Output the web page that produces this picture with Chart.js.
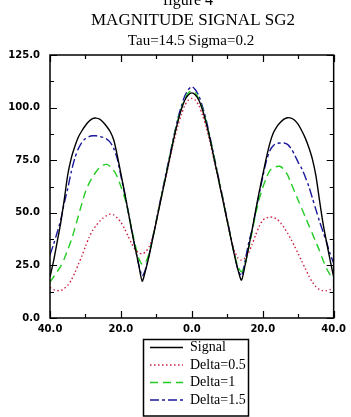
<!DOCTYPE html>
<html>
<head>
<meta charset="utf-8">
<script src="https://cdn.jsdelivr.net/npm/chart.js@4.4.1/dist/chart.umd.min.js"></script>
<style>
  html, body { margin: 0; padding: 0; background: #fff; }
  #fig { display: block; }
</style>
</head>
<body>
<canvas id="fig" width="351" height="417"></canvas>
<script>
// x positions -40 .. 40, step 1
const xs = [];
for (let i = -40; i <= 40; i++) xs.push(i);

const signal = [
  19.5, 27, 36, 45, 56, 68, 76, 81.5, 86, 89,
  91.5, 93.5, 94.8, 95, 94.5, 93, 91, 88.5, 84.5, 77,
  68.5, 60, 51, 42, 33.5, 25.5, 17.5, 23, 30, 38,
  46, 54, 62, 70, 78, 86, 93, 99, 103.5, 106,
  107,
  106, 103.5, 99, 93, 86, 78, 70, 62, 54, 46,
  38, 30, 23, 18, 25, 33.5, 42, 51, 60, 68,
  76, 83, 88, 91, 93, 94.5, 95.2, 95, 94, 92,
  89, 85.5, 81, 75.5, 67.5, 56, 45, 36, 27.5, 19.5
];
const delta05 = [
  14.5, 13.5, 13, 13, 14, 15.5, 18, 21.5, 25.5, 29.5,
  34, 38.3, 41.5, 44, 46, 47.5, 48.7, 49.4, 49, 47.5,
  45.5, 42.5, 39, 35.5, 32.5, 31, 30.5, 31.5, 34, 38.5,
  46, 54.5, 62, 69.5, 77, 84.5, 91, 96.5, 101, 103.5,
  104.4,
  103.5, 101, 96.5, 91, 84.5, 77, 69.5, 62, 54.5, 46,
  38, 32, 28.5, 27.5, 28.5, 31, 35, 39.5, 43.5, 46.5,
  47.5, 48, 47.8, 47, 45.3, 43, 40.3, 37.3, 34, 30.5,
  27, 23.5, 20, 17, 14.8, 13.5, 13, 13, 13.5, 14.5
];
const delta1 = [
  17, 19.5, 22, 24.5, 28, 32.5, 37, 42.5, 48.5, 54.5,
  60, 64, 67, 69.5, 71.5, 72.7, 73, 72, 70, 67,
  62.5, 57.5, 51, 42.5, 35, 28.5, 25.5, 26.5, 31, 38,
  46, 54.5, 62.5, 70.5, 78.5, 86.5, 93.5, 99.5, 104, 107,
  108,
  107, 104, 99.5, 93.5, 86.5, 78.5, 70.5, 62.5, 54.5, 46,
  38, 30.5, 24.5, 22, 25.5, 33, 41, 49.5, 56.5, 62,
  66.5, 70, 71.5, 72, 72, 70.5, 68, 64, 60, 56,
  52, 48, 44, 40, 36, 32, 27.5, 23.5, 20.5, 18
];
const delta15 = [
  30, 35, 40.5, 46.5, 54.5, 61.5, 69.5, 76, 80.5, 83.5,
  85.3, 86.2, 86.6, 86.6, 86.3, 85.8, 85, 83.5, 80.5, 75.5,
  67.5, 59.5, 51, 42, 33.5, 25.5, 20, 23.5, 30.5, 38.5,
  46.5, 55, 63, 71, 79, 87, 94.5, 100.5, 105.5, 108.5,
  110,
  108.5, 105.5, 100.5, 94.5, 87, 79, 71, 63, 55, 46.5,
  38.5, 30.5, 23, 20, 27, 35.5, 42, 50.5, 59, 67,
  74.5, 79.5, 82, 83, 83.2, 83.2, 82.5, 80.5, 77.5, 74,
  71, 67, 62.5, 57, 51.5, 46, 41, 36, 30.5, 26
];

const seriesNames = ["Signal", "Delta=0.5", "Delta=1", "Delta=1.5"];
const xTicks = [-40, -20, 0, 20, 40];
const yTicks = [0, 25, 50, 75, 100, 125];

const pts = vals => vals.map((v, i) => ({ x: xs[i], y: v }));

const styles = [
  { color: "#000000", dash: [], width: 1.4 },
  { color: "#cc2244", dash: [1.5, 2.5], width: 1.4 },
  { color: "#22cc22", dash: [8, 5], width: 1.4 },
  { color: "#1a1a9a", dash: [9, 3, 3, 3], width: 1.4 }
];

const datasets = [signal, delta05, delta1, delta15].map((vals, i) => ({
  label: seriesNames[i],
  data: pts(vals),
  borderColor: styles[i].color,
  borderDash: styles[i].dash,
  borderWidth: styles[i].width,
  pointRadius: 0,
  tension: 0.25,
  fill: false
}));

// frame, inward ticks, titles and boxed legend
const decor = {
  id: "decor",
  afterDraw(chart) {
    const ctx = chart.ctx;
    const a = chart.chartArea;
    const sx = chart.scales.x, sy = chart.scales.y;
    ctx.save();
    ctx.strokeStyle = "#000";
    ctx.lineWidth = 1.5;
    ctx.setLineDash([]);
    ctx.strokeRect(a.left, a.top, a.right - a.left, a.bottom - a.top);

    ctx.lineWidth = 1.2;
    for (let v = -40; v <= 40; v += 10) {
      const px = Math.round(sx.getPixelForValue(v)) + 0.5;
      const len = v % 20 === 0 ? 7 : 4;
      ctx.beginPath();
      ctx.moveTo(px, a.bottom); ctx.lineTo(px, a.bottom - len);
      ctx.moveTo(px, a.top); ctx.lineTo(px, a.top + len);
      ctx.stroke();
    }
    for (let v = 0; v <= 125; v += 12.5) {
      const py = Math.round(sy.getPixelForValue(v)) + 0.5;
      const len = v % 25 === 0 ? 7 : 4;
      ctx.beginPath();
      ctx.moveTo(a.left, py); ctx.lineTo(a.left + len, py);
      ctx.moveTo(a.right, py); ctx.lineTo(a.right - len, py);
      ctx.stroke();
    }

    // titles
    ctx.fillStyle = "#000";
    ctx.textAlign = "center";
    ctx.textBaseline = "alphabetic";
    ctx.font = "16px 'Liberation Serif'";
    ctx.fillText("figure 4", 188, 5);
    ctx.font = "17px 'Liberation Serif'";
    ctx.fillText("MAGNITUDE SIGNAL SG2", 193, 25);
    ctx.font = "15px 'Liberation Serif'";
    ctx.fillText("Tau=14.5 Sigma=0.2", 191, 45);

    // legend box
    const bx = 143.5, by = 339.5, bw = 105, bh = 76.5;
    ctx.fillStyle = "#fff";
    ctx.fillRect(bx, by, bw, bh);
    ctx.lineWidth = 1.5;
    ctx.strokeRect(bx, by, bw, bh);
    ctx.textAlign = "left";
    ctx.textBaseline = "middle";
    ctx.font = "14px 'Liberation Serif'";
    chart.data.datasets.forEach((ds, i) => {
      const y = 347.5 + i * 17.5;
      ctx.strokeStyle = ds.borderColor;
      ctx.lineWidth = ds.borderWidth;
      ctx.setLineDash(ds.borderDash);
      ctx.beginPath();
      ctx.moveTo(150, y); ctx.lineTo(183, y);
      ctx.stroke();
      ctx.setLineDash([]);
      ctx.fillStyle = "#000";
      ctx.fillText(ds.label, 190, y);
    });
    ctx.restore();
  }
};

new Chart(document.getElementById("fig"), {
  type: "line",
  data: { datasets },
  options: {
    responsive: false,
    animation: false,
    layout: { padding: { top: 55, left: 0, right: 13, bottom: 79 } },
    plugins: {
      legend: { display: false },
      tooltip: { enabled: false }
    },
    scales: {
      x: {
        type: "linear",
        min: -40,
        max: 40,
        afterFit: s => { s.height = 20; },
        afterBuildTicks: s => { s.ticks = xTicks.map(v => ({ value: v })); },
        grid: { display: false, tickLength: 0 },
        border: { display: false },
        ticks: {
          padding: 5,
          maxRotation: 0,
          color: "#000",
          font: { family: "DejaVu Sans", size: 10, weight: "bold" },
          callback: v => Math.abs(v).toFixed(1)
        }
      },
      y: {
        min: 0,
        max: 125,
        afterFit: s => { s.width = 50; },
        afterBuildTicks: s => { s.ticks = yTicks.map(v => ({ value: v })); },
        grid: { display: false, tickLength: 0 },
        border: { display: false },
        ticks: {
          padding: 10,
          color: "#000",
          font: { family: "DejaVu Sans", size: 10, weight: "bold" },
          callback: v => v.toFixed(1)
        }
      }
    }
  },
  plugins: [decor]
});
</script>
</body>
</html>
